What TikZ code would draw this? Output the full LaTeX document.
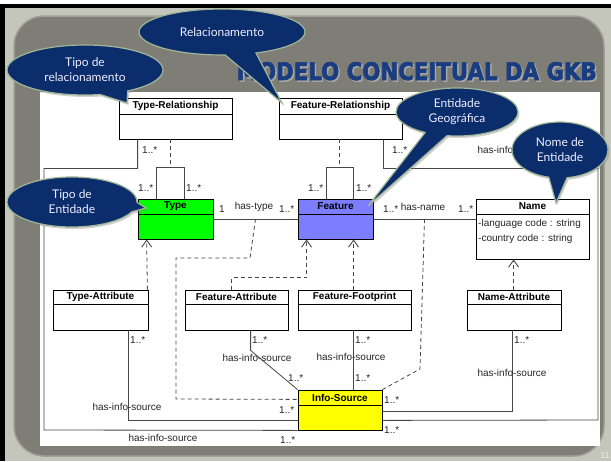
\documentclass[tikz,border=0pt]{standalone}
\usepackage{fontspec}
\usepackage{graphicx}
\setmainfont{Liberation Sans}
\newfontfamily\callfont{Lato}
\newfontfamily\titlefont{DejaVu Sans}[BoldFeatures={FakeBold=2.5}]
\usetikzlibrary{arrows.meta,shapes.callouts,shapes.geometric,fit,shadows}
\definecolor{navy}{RGB}{12,45,107}
\definecolor{rim}{RGB}{160,182,150}
\definecolor{titleblue}{RGB}{26,60,128}
\definecolor{lightgray}{RGB}{196,197,187}
\definecolor{framegray}{RGB}{127,126,118}
\definecolor{framerim}{RGB}{160,160,150}
\definecolor{typegreen}{RGB}{0,255,0}
\definecolor{featblue}{RGB}{125,125,255}
\definecolor{infoyellow}{RGB}{255,255,0}
\definecolor{connc}{RGB}{70,70,70}
\tikzset{
  clsbox/.style={draw=black, line width=0.8pt, inner sep=0pt, rectangle},
  clsline/.style={draw=black, line width=0.8pt},
  clsname/.style={font=\bfseries\fontsize{10}{12}\selectfont, inner sep=0pt},
  lbl/.style={font=\fontsize{10}{12}\selectfont, inner sep=0pt, text=black!85},
  mult/.style={lbl, anchor=west},
  conn/.style={draw=connc, line width=0.8pt},
  dep/.style={draw=connc, line width=0.8pt, dash pattern=on 4pt off 3pt},
  gen/.style={-{Straight Barb[length=7pt,width=10pt,line width=0.9pt]}},
  callbox/.style={ellipse callout, fill=navy, draw=rim, line width=1.2pt,
    text=white!93!blue, font=\callfont\fontsize{12}{15}\selectfont,
    align=center, inner sep=0pt, callout pointer arc=22,
    drop shadow={opacity=0.35, shadow xshift=1.5pt, shadow yshift=-2pt}},
}
\newcommand{\umlbox}[8]{%
  \coordinate (#1-nw) at (#2,#3);
  \coordinate (#1-se) at (#4,#5);
  \node[clsbox, fill=#7, fit=(#1-nw)(#1-se)] (#1) {};
  \draw[clsline] (#2,#6) -- (#4,#6);
  \node[clsname] (#1-t) at ({(#2+#4)/2},{(#3+#6)/2}) {#8};
}
\begin{document}
\begin{tikzpicture}[x=1pt,y=-1pt]
\useasboundingbox (0,0) rectangle (611,461);
% slide background
\fill[white] (0,0) rectangle (611,461);
\fill[lightgray] (0,4) rectangle (611,461);
\fill[black] (0,4) rectangle (611,8);
\fill[black] (0,4) rectangle (5,461);
\fill[framegray, rounded corners=30pt] (14,16) rectangle (604,456);
\draw[framerim, line width=1.5pt, rounded corners=30pt] (14,16) rectangle (604,456);
\node[anchor=base east, text=black!35, inner sep=0pt] (titleshadow) at (598.5,81.5)
  {\resizebox{360pt}{18pt}{\titlefont\bfseries MODELO CONCEITUAL DA GKB}};
\node[anchor=base east, text=titleblue, inner sep=0pt] (title) at (597,80)
  {\resizebox{360pt}{18pt}{\titlefont\bfseries MODELO CONCEITUAL DA GKB}};
\fill[white] (40,92) rectangle (600,446);
\node[font=\fontsize{9}{10}\selectfont, text=white!85!gray, inner sep=0pt] (pg) at (605,455) {11};

% classes
\umlbox{tr}{119}{98}{232}{139}{114}{white}{Type-Relationship}
\umlbox{fr}{279}{98}{402}{139}{114}{white}{Feature-Relationship}
\umlbox{ty}{138}{199}{213}{239}{214}{typegreen}{Type}
\umlbox{fe}{298}{199}{373}{239}{214}{featblue}{Feature}
\umlbox{nm}{476}{199}{589}{259}{214}{white}{Name}
\umlbox{ta}{53}{290}{148}{330}{304}{white}{Type-Attribute}
\umlbox{fa}{185}{290}{288}{330}{304}{white}{Feature-Attribute}
\umlbox{ff}{298}{290}{411}{330}{304}{white}{Feature-Footprint}
\umlbox{na}{467}{290}{561}{330}{304}{white}{Name-Attribute}
\umlbox{is}{298}{390}{382}{430}{405}{infoyellow}{Info-Source}
\node[lbl, anchor=west] (nm1) at (478,224) {-language code : string};
\node[lbl, anchor=west] (nm2) at (478,239) {-country code : string};

% Type-Relationship -> Info-Source (outer left)
\draw[conn] ([xshift=19pt]tr.south west) -- ++(0,29) -| (44,430) -- (is.south west);
\node[mult] (m1) at (142,150) {1..*};
\node[lbl] (h1) at (163,438) {has-info-source};
\node[mult] (m2) at (280,440) {1..*};
% Type-Relationship -> Type loop
\draw[dep] ([xshift=52pt]tr.south west) -- ++(0,29);
\draw[conn] ([xshift=19pt]ty.north west) -- ++(0,-31) -| ([xshift=47pt]ty.north west);
\node[mult] (m3) at (138,188) {1..*};
\node[mult] (m4) at (186,188) {1..*};
% Feature-Relationship -> Info-Source (outer right)
\draw[conn] ([xshift=-19pt]fr.south east) -- ++(0,29) -| (598,420) -- ([yshift=10pt]is.south east);
\node[mult] (m5) at (392,150) {1..*};
\node[lbl] (h2) at (512,150) {has-info-source};
\node[mult] (m6) at (384,430) {1..*};
% Feature-Relationship -> Feature loop
\draw[dep] ([xshift=61pt]fr.south west) -- ++(0,29);
\draw[conn] ([xshift=29pt]fe.north west) -- ++(0,-31) -| ([xshift=56pt]fe.north west);
\node[mult] (m7) at (308,188) {1..*};
\node[mult] (m8) at (356,188) {1..*};
% has-type
\draw[conn] (ty.east) -- coordinate[midway] (ht) (fe.west);
\node[mult] (m9) at (219,209) {1};
\node[lbl] (h3) at (254,207) {has-type};
\node[mult] (m10) at (279,209) {1..*};
\draw[dep] (ht) -- (250,258) -| (176,399) -- ([yshift=31pt]is.south west);
% has-name
\draw[conn] (fe.east) -- coordinate[midway] (hn) (fe.east -| nm.west);
\node[mult] (m11) at (383,209) {1..*};
\node[lbl] (h4) at (423,207) {has-name};
\node[mult] (m12) at (458,209) {1..*};
\draw[dep] (hn) -- (420,369) -- (is.north east);
% attribute dependencies
\draw[dep,gen] ([xshift=-1pt]ta.north east) -- ([xshift=9pt]ty.south west);
\draw[dep,gen] ([xshift=47pt]fa.north west) -- ++(0,-12) -| ([xshift=9pt]fe.south west);
\draw[dep,gen] ([xshift=56pt]ff.north west) -- ([xshift=56pt]fe.south west);
\draw[dep,gen] ([xshift=47pt]na.north west) -- ([xshift=38pt]nm.south west);
% attributes -> Info-Source
\draw[conn] ([xshift=-20pt]ta.south east) |- ([yshift=10pt]is.south west);
\node[mult] (m13) at (130,340) {1..*};
\node[lbl] (h5) at (127,407) {has-info-source};
\node[mult] (m14) at (279,410) {1..*};
\draw[conn] ([xshift=66pt]fa.south west) -- ++(0,20) -- (is.north west);
\node[mult] (m15) at (252,340) {1..*};
\node[lbl] (h6) at (257,358) {has-info-source};
\node[mult] (m16) at (288,378) {1..*};
\draw[conn] ([xshift=56pt]ff.south west) -- ([xshift=56pt]is.north west);
\node[mult] (m17) at (355,340) {1..*};
\node[lbl] (h7) at (351,357) {has-info-source};
\node[mult] (m18) at (355,378) {1..*};
\draw[conn] ([xshift=46pt]na.south west) |- ([yshift=19pt]is.south east);
\node[mult] (m19) at (514,340) {1..*};
\node[lbl] (h8) at (512,373) {has-info-source};
\node[mult] (m20) at (384,400) {1..*};

% callouts
\node[callbox, minimum width=156pt, minimum height=50pt, callout absolute pointer={(127,103)}] (c1) at (85,70) {Tipo de\\relacionamento};
\node[callbox, minimum width=166pt, minimum height=46pt, callout absolute pointer={(282,103)}] (c2) at (222,32) {Relacionamento};
\node[callbox, minimum width=122pt, minimum height=48pt, callout absolute pointer={(368,206)}] (c3) at (457,112) {Entidade\\Geográfica};
\node[callbox, minimum width=96pt, minimum height=56pt, callout absolute pointer={(556,203)}] (c4) at (560,150) {Nome de\\Entidade};
\node[callbox, minimum width=130pt, minimum height=50pt, callout absolute pointer={(146,208)}] (c5) at (72,202) {Tipo de\\Entidade};
\end{tikzpicture}
\end{document}
